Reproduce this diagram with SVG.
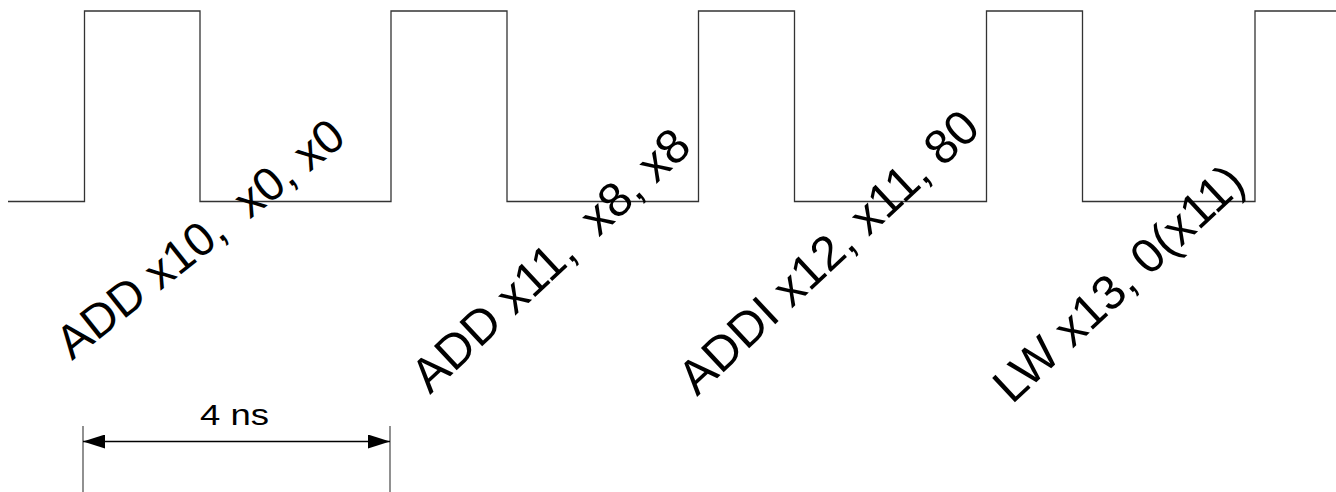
<svg xmlns="http://www.w3.org/2000/svg" width="1336" height="492" viewBox="0 0 1336 492">
<style>
.wave{fill:none;stroke:#333;stroke-width:1.3}
.tick{stroke:#555;stroke-width:1.3}
.dim{stroke:#000;stroke-width:1.5}
.lbl{font-family:"Liberation Sans",Arial,sans-serif;font-size:48.5px;fill:#000;white-space:pre}
.dimtxt{font-family:"Liberation Sans",Arial,sans-serif;font-size:30px;fill:#000}
</style>
<defs>
<marker id="ah" viewBox="0 0 22 14" refX="22" refY="7" markerWidth="22" markerHeight="14" markerUnits="userSpaceOnUse" orient="auto-start-reverse">
<path d="M0,0 L22,7 L0,14 Z" fill="#000"/>
</marker>
</defs>
<g id="clock">
<path class="wave" d="M8,201.5 H84.5 V11 H200 V201.5 H391 V11 H507 V201.5 H698.5 V11 H794.5 V201.5 H986.5 V11 H1082.5 V201.5 H1255 V11 H1336"/>
</g>
<g id="label1"><text class="lbl" style="font-size:47px" xml:space="preserve" x="72" y="361" transform="rotate(-38.5 72 361)">ADD x10,  x0, x0</text></g>
<g id="label2"><text class="lbl" xml:space="preserve" x="430" y="395" transform="rotate(-43 430 395)">ADD x11,  x8, x8</text></g>
<g id="label3"><text class="lbl" xml:space="preserve" x="697" y="397" transform="rotate(-43 697 397)">ADDI x12, x11, 80</text></g>
<g id="label4"><text class="lbl" xml:space="preserve" x="1012" y="405" transform="rotate(-43 1012 405)">LW x13, 0(x11)</text></g>
<g id="connectors">
<line class="tick" x1="83" y1="426" x2="83" y2="492"/>
<line class="tick" x1="390" y1="426" x2="390" y2="492"/>
<line class="dim" x1="83" y1="441.5" x2="390" y2="441.5" marker-start="url(#ah)" marker-end="url(#ah)"/>
</g>
<g id="dimlabel"><text class="dimtxt" x="200" y="425" textLength="69" lengthAdjust="spacingAndGlyphs">4 ns</text></g>
</svg>
